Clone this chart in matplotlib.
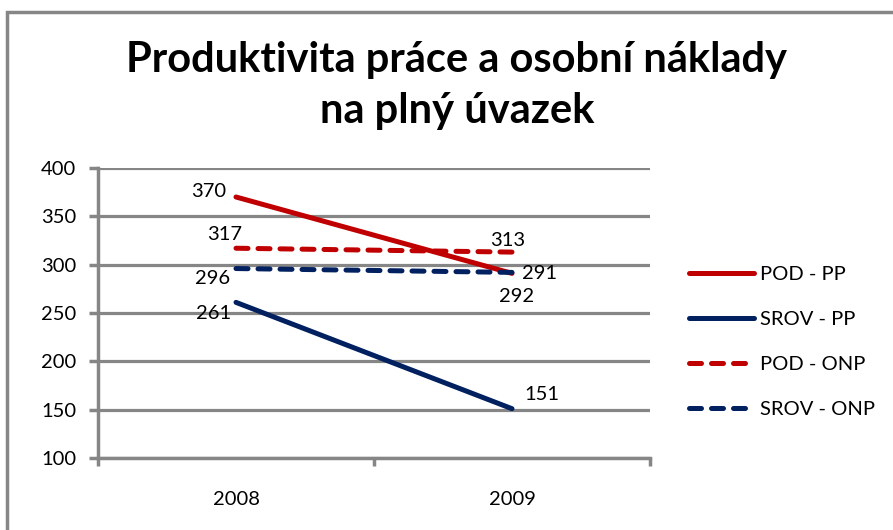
import matplotlib.pyplot as plt
from matplotlib.patches import Rectangle

years = ['2008', '2009']
pod_pp = [370, 291]
srov_pp = [261, 151]
pod_onp = [317, 313]
srov_onp = [296, 292]

red = '#C00000'
navy = '#002060'
grid_gray = '#868686'

plt.rcParams['font.family'] = ['Lato', 'DejaVu Sans']

fig = plt.figure(figsize=(8.93, 5.30), dpi=100)
# chart border (cropped on right/bottom like the original)
fig.patches.append(Rectangle((7 / 893, -0.1), 1.2, 1 - 12 / 530 + 0.1, transform=fig.transFigure,
                             fill=False, edgecolor=grid_gray, linewidth=2.5))

ax = fig.add_axes([98 / 893, 1 - 458 / 530, 552 / 893, 290 / 530])
x = range(len(years))
lw = 3.6
dash = (0, (2.4, 2.0))
ax.plot(x, pod_pp, color=red, lw=lw, solid_capstyle='round', label='POD - PP', zorder=3)
ax.plot(x, srov_pp, color=navy, lw=lw, solid_capstyle='round', label='SROV - PP', zorder=3)
ax.plot(x, pod_onp, color=red, lw=lw, ls=dash, dash_capstyle='round', label='POD - ONP', zorder=3)
ax.plot(x, srov_onp, color=navy, lw=lw, ls=dash, dash_capstyle='round', label='SROV - ONP', zorder=3)

ax.set_xlim(-0.5, 1.5)
ax.set_ylim(100, 400)
ax.set_yticks(range(100, 401, 50))
ax.set_xticks(x)
ax.set_xticklabels(years)
ax.set_xticks([-0.5, 0.5, 1.5], minor=True)
ax.grid(axis='y', color=grid_gray, lw=2.3, zorder=0)
ax.set_axisbelow(True)
for s in ['top', 'right']:
    ax.spines[s].set_visible(False)
for s in ['left', 'bottom']:
    ax.spines[s].set_color(grid_gray)
    ax.spines[s].set_linewidth(2.5)
fs = 14.5
ax.tick_params(axis='y', length=6.5, width=2.5, color=grid_gray, labelsize=fs, pad=9)
ax.tick_params(axis='x', which='major', length=0, labelsize=fs, pad=24)
ax.tick_params(axis='x', which='minor', length=5.5, width=2.5, color=grid_gray)

# data labels, 2008
ax.annotate(str(pod_pp[0]), (0, pod_pp[0]), xytext=(-7, 4), textcoords='offset points', ha='right', va='center', fontsize=fs)
ax.annotate(str(pod_onp[0]), (0, pod_onp[0]), xytext=(-8, 10), textcoords='offset points', ha='center', va='center', fontsize=fs)
ax.annotate(str(srov_onp[0]), (0, srov_onp[0]), xytext=(-17, -7), textcoords='offset points', ha='center', va='center', fontsize=fs)
ax.annotate(str(srov_pp[0]), (0, srov_pp[0]), xytext=(-16, -8), textcoords='offset points', ha='center', va='center', fontsize=fs)
# data labels, 2009
ax.annotate(str(pod_onp[1]), (1, pod_onp[1]), xytext=(-3, 8), textcoords='offset points', ha='center', va='center', fontsize=fs)
ax.annotate(str(pod_pp[1]), (1, pod_pp[1]), xytext=(7, 0), textcoords='offset points', ha='left', va='center', fontsize=fs)
ax.annotate(str(srov_onp[1]), (1, srov_onp[1]), xytext=(3, -17), textcoords='offset points', ha='center', va='center', fontsize=fs)
ax.annotate(str(srov_pp[1]), (1, srov_pp[1]), xytext=(9, 10), textcoords='offset points', ha='left', va='center', fontsize=fs)

leg = fig.legend(loc='upper left', bbox_to_anchor=(671 / 893, 1 - 248 / 530), frameon=False,
                 fontsize=fs, handlelength=3.2, handletextpad=0.3, labelspacing=1.38)

fig.text(457 / 893, 1 - 60 / 530, 'Produktivita práce a osobní náklady', ha='center', va='center',
         fontsize=30, fontweight='bold')
fig.text(457 / 893, 1 - 111 / 530, 'na plný úvazek', ha='center', va='center',
         fontsize=30, fontweight='bold')

fig.savefig('out.png', dpi=100)
